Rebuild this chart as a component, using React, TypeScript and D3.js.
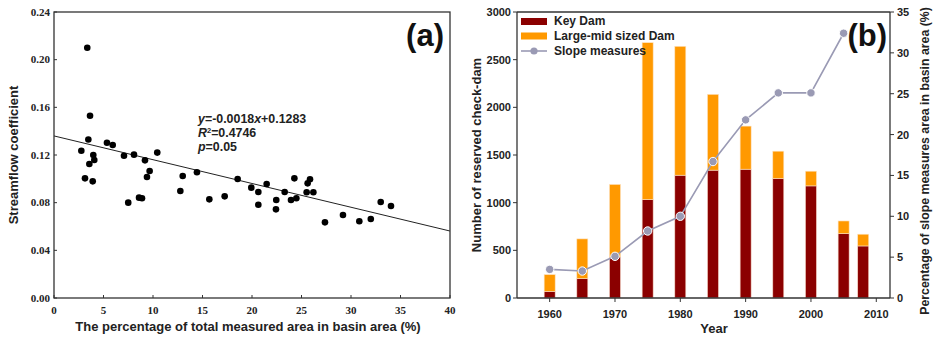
import React from 'react';
import * as d3 from 'd3';

// (a) scatter: [percentage of measured area, streamflow coefficient]
const scatterPoints: [number, number][] = [
  [3.36, 0.210], [3.64, 0.153], [3.47, 0.133], [2.76, 0.1236], [3.97, 0.120],
  [3.57, 0.1124], [4.07, 0.1158], [3.13, 0.1004], [3.91, 0.0979], [5.35, 0.1303],
  [5.93, 0.1284], [7.07, 0.1194], [8.08, 0.1203], [9.19, 0.1155], [10.43, 0.122],
  [9.39, 0.1015], [9.66, 0.1066], [7.5, 0.080], [8.59, 0.0842], [8.89, 0.0837],
  [12.76, 0.0898], [13.0, 0.1024], [14.44, 0.1055], [15.69, 0.0828], [17.24, 0.0853],
  [18.55, 0.0999], [19.93, 0.0926], [20.64, 0.089], [20.64, 0.0783], [21.48, 0.0957],
  [22.45, 0.0822], [22.42, 0.0744], [23.3, 0.089], [23.94, 0.0822], [24.28, 0.1004],
  [24.48, 0.0837], [25.62, 0.0962], [25.86, 0.0996], [25.52, 0.0887], [26.2, 0.0887],
  [27.37, 0.0635], [29.19, 0.0697], [30.84, 0.0644], [32.0, 0.0663], [33.0, 0.0806],
  [34.04, 0.0772],
];
// fitted line as drawn, endpoints at x = 0 and x = 40
const fitLine: [number, number][] = [[0, 0.136], [40, 0.0562]];
const scatterXTicks = [0, 5, 10, 15, 20, 25, 30, 35, 40];
const scatterYTicks = [0, 0.04, 0.08, 0.12, 0.16, 0.2, 0.24];

// (b) check-dams and slope measures
const damYears = [1960, 1965, 1970, 1975, 1980, 1985, 1990, 1995, 2000, 2005, 2008];
const keyDam = [70, 204, 431, 1033, 1288, 1341, 1351, 1254, 1176, 676, 546];
const largeMidDam = [175, 416, 760, 1645, 1352, 795, 452, 286, 154, 132, 123];
const slopeYears = [1960, 1965, 1970, 1975, 1980, 1985, 1990, 1995, 2000, 2005];
const slopeMeasures = [3.5, 3.3, 5.1, 8.2, 10.0, 16.7, 21.8, 25.1, 25.1, 32.4];
const yearTicks = [1960, 1970, 1980, 1990, 2000, 2010];
const damTicks = [0, 500, 1000, 1500, 2000, 2500, 3000];
const pctTicks = [0, 5, 10, 15, 20, 25, 30, 35];

const sans = 'Liberation Sans, Arial, sans-serif';
const serif = 'Liberation Serif, Times New Roman, serif';
const axisColor = '#333';
const keyColor = '#8b0000';
const midColor = '#ff9900';
const slopeColor = '#9a9ab4';

const App: React.FC = () => {
  // panel (a)
  const ax = d3.scaleLinear().domain([0, 40]).range([54, 450]);
  const ay = d3.scaleLinear().domain([0, 0.24]).range([298, 12]);
  const fit = d3.line<[number, number]>().x(d => ax(d[0])).y(d => ay(d[1]));

  // panel (b)
  const bx = d3.scaleLinear().domain([1955, 2012.1]).range([517, 890]);
  const by = d3.scaleLinear().domain([0, 3000]).range([298, 12]);
  const byR = d3.scaleLinear().domain([0, 35]).range([298, 12]);
  const barW = 11;
  const slopeData = slopeYears.map((yr, i) => ({ yr, v: slopeMeasures[i] }));
  const slopeLine = d3.line<{ yr: number; v: number }>().x(d => bx(d.yr)).y(d => byR(d.v));

  return (
    <svg width={933} height={337} style={{ position: 'absolute', left: 0, top: 0, background: '#fff' }}>
      {/* ---------- (a) ---------- */}
      <g>
        <path d={fit(fitLine) || ''} stroke="#222" strokeWidth={1} fill="none" />
        {scatterPoints.map((d, i) => (
          <circle key={i} cx={ax(d[0])} cy={ay(d[1])} r={3.3} fill="#000" />
        ))}
        <rect x={ax(0)} y={ay(0.24)} width={ax(40) - ax(0)} height={ay(0) - ay(0.24)}
          fill="none" stroke={axisColor} strokeWidth={1.3} />
        {scatterYTicks.map(t => (
          <g key={t}>
            <line x1={ax(0)} x2={ax(0) + 3} y1={ay(t)} y2={ay(t)} stroke={axisColor} strokeWidth={1} />
            <text x={ax(0) - 4} y={ay(t) + 3.5} textAnchor="end" fontFamily={serif} fontWeight="bold"
              fontSize={11} fill="#222">{t.toFixed(2)}</text>
          </g>
        ))}
        {scatterXTicks.map(t => (
          <g key={t}>
            <line x1={ax(t)} x2={ax(t)} y1={ay(0)} y2={ay(0) - 3} stroke={axisColor} strokeWidth={1} />
            <text x={ax(t)} y={314} textAnchor="middle" fontFamily={serif} fontWeight="bold"
              fontSize={11} fill="#222">{t}</text>
          </g>
        ))}
        <text transform={`translate(18,${(ay(0) + ay(0.24)) / 2}) rotate(-90)`} textAnchor="middle"
          fontFamily={sans} fontWeight="bold" fontSize={13} fill="#222">Streamflow coefficient</text>
        <text x={248} y={331} textAnchor="middle" fontFamily={sans} fontWeight="bold" fontSize={13}
          fill="#222">The percentage of total measured area in basin area (%)</text>
        <text x={444} y={46} textAnchor="end" fontFamily={sans} fontWeight="bold" fontSize={31}
          fill="#111">(a)</text>
        <g fontFamily={sans} fontWeight="bold" fontSize={12.4} fill="#222">
          <text x={198} y={123}><tspan fontStyle="italic">y</tspan>=-0.0018<tspan fontStyle="italic">x</tspan>+0.1283</text>
          <text x={198} y={137}><tspan fontStyle="italic">R</tspan><tspan fontSize={7.5} dy={-4.5}>2</tspan><tspan dy={4.5}>=0.4746</tspan></text>
          <text x={198} y={151}><tspan fontStyle="italic">p</tspan>=0.05</text>
        </g>
      </g>

      {/* ---------- (b) ---------- */}
      <g>
        {damYears.map((yr, i) => (
          <g key={yr}>
            <rect x={bx(yr) - barW / 2} y={by(keyDam[i])} width={barW} height={by(0) - by(keyDam[i])}
              fill={keyColor} stroke="#f6d8c8" strokeWidth={0.6} />
            <rect x={bx(yr) - barW / 2} y={by(keyDam[i] + largeMidDam[i])} width={barW}
              height={by(keyDam[i]) - by(keyDam[i] + largeMidDam[i])}
              fill={midColor} stroke="#fde2bf" strokeWidth={0.6} />
          </g>
        ))}
        <path d={slopeLine(slopeData) || ''} stroke={slopeColor} strokeWidth={1.6} fill="none" />
        {slopeData.map(d => (
          <circle key={d.yr} cx={bx(d.yr)} cy={byR(d.v)} r={4.2} fill={slopeColor} stroke="#fff" strokeWidth={1} />
        ))}
        {/* frame */}
        <line x1={517} x2={890} y1={12} y2={12} stroke={axisColor} strokeWidth={1.3} />
        <line x1={517} x2={890} y1={298} y2={298} stroke={axisColor} strokeWidth={1.3} />
        <line x1={517} x2={517} y1={12} y2={298} stroke={axisColor} strokeWidth={1.3} />
        <line x1={890} x2={890} y1={12} y2={298} stroke={axisColor} strokeWidth={1.3} />
        {damTicks.map(t => (
          <g key={t}>
            <line x1={517} x2={513} y1={by(t)} y2={by(t)} stroke={axisColor} strokeWidth={1} />
            <text x={511} y={by(t) + 4} textAnchor="end" fontFamily={sans} fontWeight="bold"
              fontSize={11} fill="#222">{t}</text>
          </g>
        ))}
        {pctTicks.map(t => (
          <g key={t}>
            <line x1={890} x2={894} y1={byR(t)} y2={byR(t)} stroke={axisColor} strokeWidth={1} />
            <text x={897} y={byR(t) + 4} textAnchor="start" fontFamily={sans} fontWeight="bold"
              fontSize={11} fill="#222">{t}</text>
          </g>
        ))}
        {yearTicks.map(t => (
          <g key={t}>
            <line x1={bx(t)} x2={bx(t)} y1={298} y2={302} stroke={axisColor} strokeWidth={1} />
            <text x={bx(t)} y={318} textAnchor="middle" fontFamily={sans} fontWeight="bold"
              fontSize={11} fill="#222">{t}</text>
          </g>
        ))}
        <text x={714} y={333} textAnchor="middle" fontFamily={sans} fontWeight="bold" fontSize={13}
          fill="#222">Year</text>
        <text transform={`translate(481,155) rotate(-90)`} textAnchor="middle" fontFamily={sans}
          fontWeight="bold" fontSize={13} fill="#222">Number of reserved check-dam</text>
        <text transform={`translate(929,161) rotate(-90)`} textAnchor="middle" fontFamily={sans}
          fontWeight="bold" fontSize={12.3} fill="#222">Percentage of slope measures area in basin area (%)</text>
        <text x={887} y={46} textAnchor="end" fontFamily={sans} fontWeight="bold" fontSize={31}
          fill="#111">(b)</text>
        {/* legend */}
        <g fontFamily={sans} fontWeight="bold" fontSize={12} fill="#222">
          <rect x={521} y={18} width={26} height={7} fill={keyColor} />
          <text x={554} y={25}>Key Dam</text>
          <rect x={521} y={32.5} width={26} height={7} fill={midColor} />
          <text x={554} y={40}>Large-mid sized Dam</text>
          <line x1={521} x2={547} y1={51} y2={51} stroke={slopeColor} strokeWidth={1.6} />
          <circle cx={534} cy={51} r={3.6} fill={slopeColor} />
          <text x={554} y={55}>Slope measures</text>
        </g>
      </g>
    </svg>
  );
};

export default App;
